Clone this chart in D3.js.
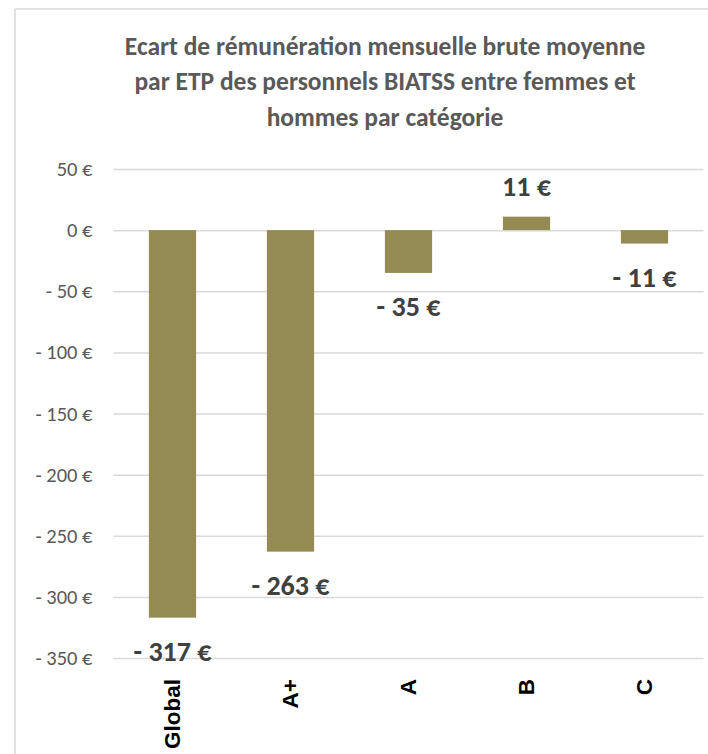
<!DOCTYPE html>
<html><head><meta charset="utf-8">
<script src="https://cdn.jsdelivr.net/npm/d3@7"></script>
<style>body{margin:0;background:#fff;} svg{display:block;}</style>
</head><body>
<script>
const categories = ["Global", "A+", "A", "B", "C"];
const values = [-317, -263, -35, 11, -11];
const yTicks = [50, 0, -50, -100, -150, -200, -250, -300, -350];
const titleLines = ["Ecart de rémunération mensuelle brute moyenne",
  "par ETP des personnels BIATSS entre femmes et",
  "hommes par catégorie"];

const W = 708, H = 754;
const svg = d3.select("body").append("svg").attr("width", W).attr("height", H);
const font = "Carlito, Lato, 'Open Sans', sans-serif";
const fmt = v => v < 0 ? "- " + Math.abs(v) + " €" : v + " €";

// frame
svg.append("line").attr("x1",15).attr("x2",15).attr("y1",9).attr("y2",H).attr("stroke","#D9D9D9").attr("stroke-width",1.5);
svg.append("line").attr("x1",15).attr("x2",W).attr("y1",9).attr("y2",9).attr("stroke","#D9D9D9").attr("stroke-width",1.5);

// title
svg.append("g").selectAll("text").data(titleLines).join("text")
  .attr("x", 385).attr("y", (d,i)=> 54.5 + i*35.5)
  .attr("text-anchor","middle").attr("font-family",font).attr("font-weight","bold")
  .attr("font-size",25.5).attr("fill","#595959").text(d=>d);

const x = d3.scaleBand().domain(categories).range([113.5, 703.5]).paddingInner(0.6).paddingOuter(0.3);
const y = d3.scaleLinear().domain([-350, 50]).range([658, 169]);

// grid
const yAxis = d3.axisLeft(y).tickValues(yTicks).tickSize(-(703.5-113.5)).tickFormat(fmt).tickPadding(21);
const gy = svg.append("g").attr("transform","translate(113.5,0)").call(yAxis);
gy.select(".domain").remove();
gy.selectAll(".tick line").attr("stroke","#D9D9D9").attr("stroke-width",1.5);
gy.selectAll(".tick text").attr("font-family",font).attr("font-size",20.5).attr("fill","#595959");

// bars
svg.append("g").selectAll("rect").data(values).join("rect")
  .attr("x",(d,i)=>x(categories[i])).attr("width",x.bandwidth())
  .attr("y",d=>y(Math.max(0,d))).attr("height",d=>Math.abs(y(d)-y(0)))
  .attr("fill","#948A54");

// data labels
svg.append("g").selectAll("text").data(values).join("text")
  .attr("x",(d,i)=>x(categories[i])+x.bandwidth()/2)
  .attr("y",d=> d<0 ? y(d)+43 : y(d)-21)
  .attr("text-anchor","middle").attr("font-family",font).attr("font-weight","bold")
  .attr("font-size",28).attr("fill","#404040").text(fmt);

// x labels
const xAxis = d3.axisBottom(x).tickSize(0).tickPadding(0);
const gx = svg.append("g").attr("transform","translate(0,658)").call(xAxis);
gx.select(".domain").remove();
gx.selectAll(".tick text")
  .attr("transform","rotate(-90)").attr("x",-21).attr("y",0).attr("dy","0.35em")
  .attr("text-anchor","end").attr("font-family","'Liberation Sans', Arial, sans-serif")
  .attr("font-weight","bold").attr("font-size",22.5).attr("fill","#000");
</script>
</body></html>
